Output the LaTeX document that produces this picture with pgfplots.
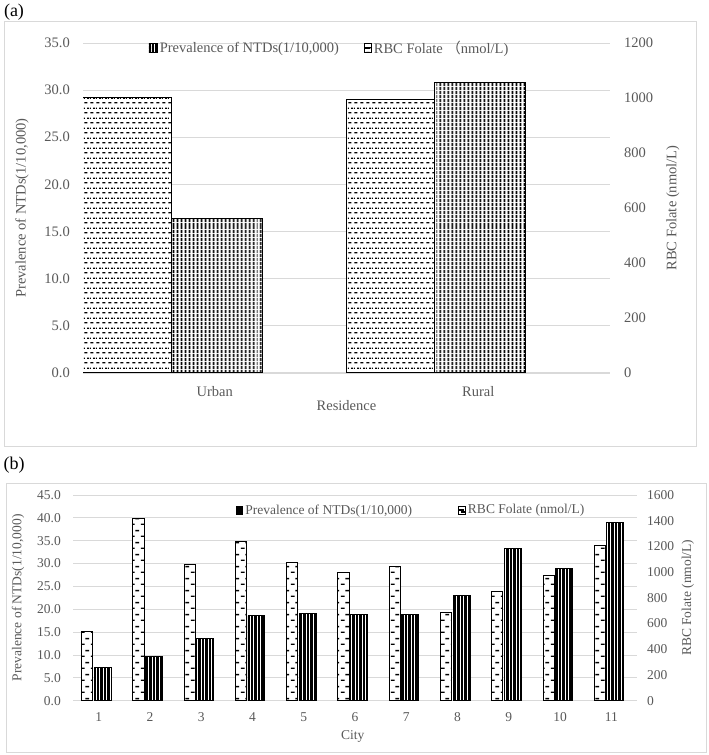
\documentclass[border=0pt]{standalone}
\usepackage{pgfplots}
\pgfplotsset{compat=1.18}
\usepackage{fontspec}
\setmainfont{Liberation Serif}
\newfontfamily\cjk{Noto Sans CJK SC}
\usetikzlibrary{patterns,patterns.meta}

\definecolor{txt}{HTML}{595959}
\definecolor{grd}{HTML}{D9D9D9}

% short dashes in offset rows, panel (a)
\pgfdeclarepatternformonly{dashA}{\pgfpointorigin}{\pgfqpoint{6pt}{10pt}}{\pgfqpoint{6pt}{10pt}}{%
  \pgfsetlinewidth{1.3pt}%
  \pgfpathmoveto{\pgfqpoint{0.5pt}{2.5pt}}\pgfpathlineto{\pgfqpoint{4pt}{2.5pt}}%
  \pgfpathmoveto{\pgfqpoint{3.5pt}{7.5pt}}\pgfpathlineto{\pgfqpoint{6pt}{7.5pt}}%
  \pgfpathmoveto{\pgfqpoint{0pt}{7.5pt}}\pgfpathlineto{\pgfqpoint{1pt}{7.5pt}}%
  \pgfusepath{stroke}}
% panel (b), sparser
\pgfdeclarepatternformonly{dashB}{\pgfpointorigin}{\pgfqpoint{10pt}{12pt}}{\pgfqpoint{10pt}{12pt}}{%
  \pgfsetlinewidth{1.4pt}%
  \pgfpathmoveto{\pgfqpoint{1pt}{3pt}}\pgfpathlineto{\pgfqpoint{5pt}{3pt}}%
  \pgfpathmoveto{\pgfqpoint{6pt}{9pt}}\pgfpathlineto{\pgfqpoint{10pt}{9pt}}%
  \pgfusepath{stroke}}

\pgfplotsset{
  /pgf/number format/assume math mode=true,
  excel/.style={
    scale only axis,
    anchor=south west,
    major tick length=0pt,
    tick style={draw=none},
    tick label style={text=txt},
    label style={text=txt},
    legend style={draw=none, fill=none, text=txt, inner sep=0pt, anchor=west},
  },
}

\begin{document}
\begin{tikzpicture}
\useasboundingbox (0,0) rectangle (709pt,755pt);

% frames and panel letters
\draw[grd, line width=1pt] (4.5pt,733pt) rectangle (696pt,308pt);
\draw[grd, line width=1pt] (6pt,271pt) rectangle (706.5pt,2pt);
\node[font=\fontsize{18}{20}\selectfont] at (14pt,742.5pt) {(a)};
\node[font=\fontsize{18}{20}\selectfont] at (14pt,290pt) {(b)};

% ---------- (a) ----------
\begin{axis}[excel,
  font=\fontsize{14.5}{17}\selectfont,
  at={(83pt,382pt)}, width=527pt, height=330pt,
  xmin=-0.5, xmax=1.5, ymin=0, ymax=35,
  xtick={0,1}, xticklabels={Urban,Rural},
  ytick={0,5,...,35},
  axis x line*=bottom, axis y line*=left,
  x axis line style={draw=grd, line width=1pt, -},
  y axis line style={draw=none},
  ymajorgrids, grid style={grd, line width=0.8pt},
  xticklabel style={anchor=center, yshift=-19pt},
  yticklabel style={anchor=east, inner sep=0pt, xshift=-13pt,
    /pgf/number format/fixed, /pgf/number format/fixed zerofill,
    /pgf/number format/precision=1},
  xlabel={Residence}, xlabel style={at={(axis description cs:0.5,-0.1)}, anchor=center},
  ylabel={Prevalence of NTDs(1/10,000)},
  ylabel style={at={(axis description cs:-0.1157,0.5)}, anchor=center},
  legend style={at={(axis description cs:0.1233,0.985)}},
  legend image code/.code={\draw[black, line width=0.8pt, fill=white,
    postaction={pattern={Lines[angle=90,distance=3pt,line width=1.6pt]}}]
    (0pt,-4.5pt) rectangle (8pt,4.5pt);},
]
\addplot[ybar, bar width=0.346, bar shift=0.007, draw=black, line width=1pt,
  fill=white, postaction={pattern={Lines[angle=90,distance=4pt,line width=2.2pt]}}]
  coordinates {(0,16.4) (1,30.8)};
\addlegendentry{Prevalence of NTDs(1/10,000)}
\end{axis}

\begin{axis}[excel,
  font=\fontsize{14.5}{17}\selectfont,
  at={(83pt,382pt)}, width=527pt, height=330pt,
  xmin=-0.5, xmax=1.5, ymin=0, ymax=1200,
  axis x line=none, xtick=\empty,
  axis y line*=right, y axis line style={draw=none},
  ytick={0,200,...,1200},
  yticklabel style={anchor=west, inner sep=0pt, xshift=14pt,
    /pgf/number format/1000 sep={}},
  ylabel={RBC Folate (nmol/L)},
  ylabel style={at={(axis description cs:1.1195,0.5)}, anchor=center},
  legend style={at={(axis description cs:0.533,0.985)}},
  legend image code/.code={\draw[black, line width=0.8pt, fill=white]
    (0pt,-4.5pt) rectangle (7pt,4.5pt); \fill[black] (1.2pt,-0.8pt) rectangle (5pt,0.8pt);},
]
\addplot[ybar, bar width=0.336, bar shift=-0.333, draw=black, line width=1pt,
  fill=white, postaction={pattern=dashA}]
  coordinates {(0,1002) (1,995)};
\addlegendentry{RBC Folate {\cjk （}nmol/L)}
\end{axis}

% ---------- (b) ----------
\begin{axis}[excel,
  font=\fontsize{13.5}{16}\selectfont,
  at={(73pt,54.3pt)}, width=564pt, height=205.7pt,
  xmin=0.5, xmax=11.5, ymin=0, ymax=45,
  xtick={1,...,11},
  ytick={0,5,...,45},
  axis x line*=bottom, axis y line*=left,
  x axis line style={draw=grd, line width=1pt, -},
  y axis line style={draw=none},
  ymajorgrids, grid style={grd, line width=0.8pt},
  xticklabel style={anchor=center, yshift=-16pt},
  yticklabel style={anchor=east, inner sep=0pt, xshift=-12pt,
    /pgf/number format/fixed, /pgf/number format/fixed zerofill,
    /pgf/number format/precision=1},
  xlabel={City}, xlabel style={at={(axis description cs:0.496,-0.172)}, anchor=center},
  ylabel={Prevalence of NTDs(1/10,000)},
  ylabel style={at={(axis description cs:-0.0975,0.5)}, anchor=center},
  legend style={at={(axis description cs:0.289,0.927)}},
  legend image code/.code={\fill[black] (0pt,-4pt) rectangle (2.5pt,4pt);
    \fill[black] (3.8pt,-4pt) rectangle (6.3pt,4pt);},
]
\addplot[ybar, bar width=0.33, bar shift=0.078, draw=black, line width=0.9pt,
  fill=white, postaction={pattern={Lines[angle=90,distance=3.5pt,line width=2.4pt]}}]
  coordinates {(1,7.3) (2,9.7) (3,13.6) (4,18.6) (5,19.0) (6,18.8)
               (7,18.9) (8,23.1) (9,33.4) (10,29.0) (11,39.0)};
\addlegendentry{Prevalence of NTDs(1/10,000)}
\end{axis}

\begin{axis}[excel,
  font=\fontsize{13.5}{16}\selectfont,
  at={(73pt,54.3pt)}, width=564pt, height=205.7pt,
  xmin=0.5, xmax=11.5, ymin=0, ymax=1600,
  axis x line=none, xtick=\empty,
  axis y line*=right, y axis line style={draw=none},
  ytick={0,200,...,1600},
  yticklabel style={anchor=west, inner sep=0pt, xshift=10pt,
    /pgf/number format/1000 sep={}},
  ylabel={RBC Folate (nmol/L)},
  ylabel style={at={(axis description cs:1.090,0.5)}, anchor=center},
  legend style={at={(axis description cs:0.6826,0.927)}},
  legend image code/.code={\draw[black, line width=0.8pt, fill=white]
    (0pt,-4pt) rectangle (7pt,4pt); \fill[black] (1pt,-0.7pt) rectangle (4.5pt,0.7pt);},
]
\addplot[ybar, bar width=0.218, bar shift=-0.224, draw=black, line width=0.9pt,
  fill=white, postaction={pattern=dashB}]
  coordinates {(1,542) (2,1414) (3,1056) (4,1237) (5,1077) (6,996)
               (7,1043) (8,688) (9,846) (10,976) (11,1206)};
\addlegendentry{RBC Folate (nmol/L)}
\end{axis}
\end{tikzpicture}
\end{document}
